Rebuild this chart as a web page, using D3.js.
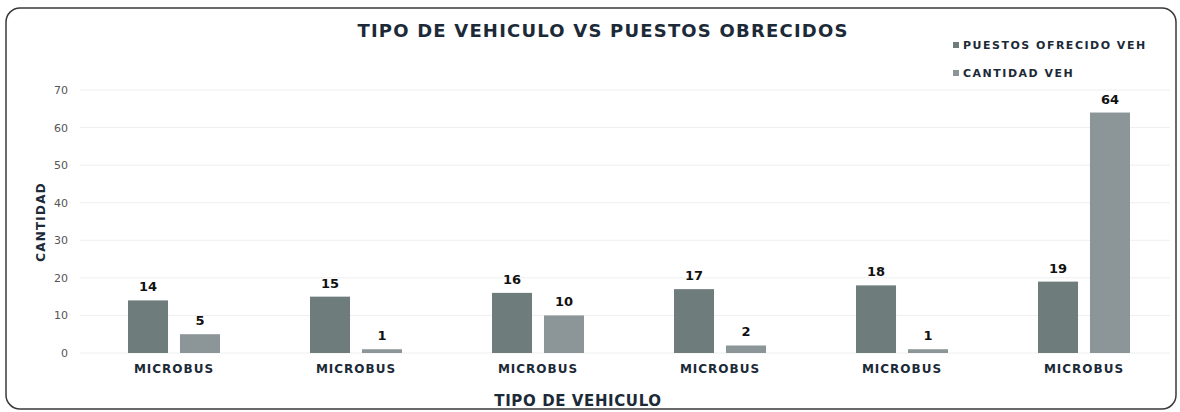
<!DOCTYPE html>
<html>
<head>
<meta charset="utf-8">
<script src="https://cdn.jsdelivr.net/npm/d3@7"></script>
<style>
  body { margin: 0; background: #fff; }
  svg { font-family: "DejaVu Sans", Arial, sans-serif; }
</style>
</head>
<body>
<div id="grafico"></div>
<script>
// Données
const categories = ["MICROBUS", "MICROBUS", "MICROBUS", "MICROBUS", "MICROBUS", "MICROBUS"];
const puestosOfrecidos = [14, 15, 16, 17, 18, 19];
const cantidadVeh = [5, 1, 10, 2, 1, 64];
const series = ["PUESTOS OFRECIDO VEH", "CANTIDAD VEH"];
const graduations = [0, 10, 20, 30, 40, 50, 60, 70];

const largeur = 1180;
const hauteur = 412;
const couleurs = ["#6e7c7b", "#8c9598"];
const encre = "#1c2a38";

const svg = d3.select("#grafico")
  .append("svg")
  .attr("width", largeur)
  .attr("height", hauteur);

// Cadre
svg.append("rect")
  .attr("x", 6)
  .attr("y", 8)
  .attr("width", 1170)
  .attr("height", 401)
  .attr("rx", 14)
  .attr("fill", "none")
  .attr("stroke", "#3a3a3a")
  .attr("stroke-width", 1.5);

const x = d3.scaleBand()
  .domain(d3.range(categories.length))
  .range([83, 1175]);

const xSerie = d3.scaleBand()
  .domain([0, 1])
  .range([x.bandwidth() / 2 - 46, x.bandwidth() / 2 + 46])
  .paddingInner(0.23);

const y = d3.scaleLinear()
  .domain([0, 70])
  .range([353, 90]);

// Lignes de grille
svg.append("g")
  .selectAll("line")
  .data(graduations)
  .enter()
  .append("line")
  .attr("x1", 80)
  .attr("x2", 1170)
  .attr("y1", d => y(d))
  .attr("y2", d => y(d))
  .attr("stroke", "#efefef");

// Axe Y
const axeY = svg.append("g")
  .attr("transform", "translate(69,0)")
  .call(d3.axisLeft(y).tickValues(graduations).tickSize(0).tickPadding(1));
axeY.select(".domain").remove();
axeY.selectAll("text")
  .attr("font-size", 11)
  .attr("fill", "#555")
  .attr("font-family", "DejaVu Sans, Arial, sans-serif");

// Barres
const groupes = svg.append("g")
  .selectAll("g")
  .data(categories.map((c, i) => ({ i, valeurs: [puestosOfrecidos[i], cantidadVeh[i]] })))
  .enter()
  .append("g")
  .attr("transform", d => `translate(${x(d.i)},0)`);

groupes.selectAll("rect")
  .data(d => d.valeurs.map((v, s) => ({ v, s })))
  .enter()
  .append("rect")
  .attr("x", d => xSerie(d.s))
  .attr("width", xSerie.bandwidth())
  .attr("y", d => y(d.v))
  .attr("height", d => y(0) - y(d.v))
  .attr("fill", d => couleurs[d.s]);

groupes.selectAll("text.valeur")
  .data(d => d.valeurs.map((v, s) => ({ v, s })))
  .enter()
  .append("text")
  .attr("class", "valeur")
  .attr("x", d => xSerie(d.s) + xSerie.bandwidth() / 2)
  .attr("y", d => y(d.v) - 9)
  .attr("text-anchor", "middle")
  .attr("font-size", 13)
  .attr("font-weight", "bold")
  .attr("fill", "#111")
  .text(d => d.v);

// Axe X
const axeX = svg.append("g")
  .attr("transform", `translate(0,${y(0)})`)
  .call(d3.axisBottom(x).tickFormat(i => categories[i]).tickSize(0).tickPadding(11));
axeX.select(".domain").remove();
axeX.selectAll("text")
  .attr("font-size", 12)
  .attr("font-weight", "bold")
  .attr("letter-spacing", 1)
  .attr("fill", encre)
  .attr("font-family", "DejaVu Sans, Arial, sans-serif");

// Titres
svg.append("text")
  .attr("x", 603)
  .attr("y", 37)
  .attr("text-anchor", "middle")
  .attr("font-size", 18)
  .attr("font-weight", "bold")
  .attr("letter-spacing", 1.2)
  .attr("fill", encre)
  .text("TIPO DE VEHICULO VS PUESTOS OBRECIDOS");

svg.append("text")
  .attr("x", 578)
  .attr("y", 406)
  .attr("text-anchor", "middle")
  .attr("font-size", 15)
  .attr("font-weight", "bold")
  .attr("letter-spacing", 0.6)
  .attr("fill", encre)
  .text("TIPO DE VEHICULO");

svg.append("text")
  .attr("transform", "translate(45,222) rotate(-90)")
  .attr("text-anchor", "middle")
  .attr("font-size", 12)
  .attr("font-weight", "bold")
  .attr("letter-spacing", 1.2)
  .attr("fill", encre)
  .text("CANTIDAD");

// Légende
const legende = svg.append("g")
  .selectAll("g")
  .data(series)
  .enter()
  .append("g")
  .attr("transform", (d, i) => `translate(953,${49 + i * 28})`);

legende.append("rect")
  .attr("x", 0)
  .attr("y", -7)
  .attr("width", 6)
  .attr("height", 6)
  .attr("fill", (d, i) => couleurs[i]);

legende.append("text")
  .attr("x", 10)
  .attr("y", 0)
  .attr("font-size", 11)
  .attr("font-weight", "bold")
  .attr("letter-spacing", 1.5)
  .attr("fill", encre)
  .text(d => d);
</script>
</body>
</html>
